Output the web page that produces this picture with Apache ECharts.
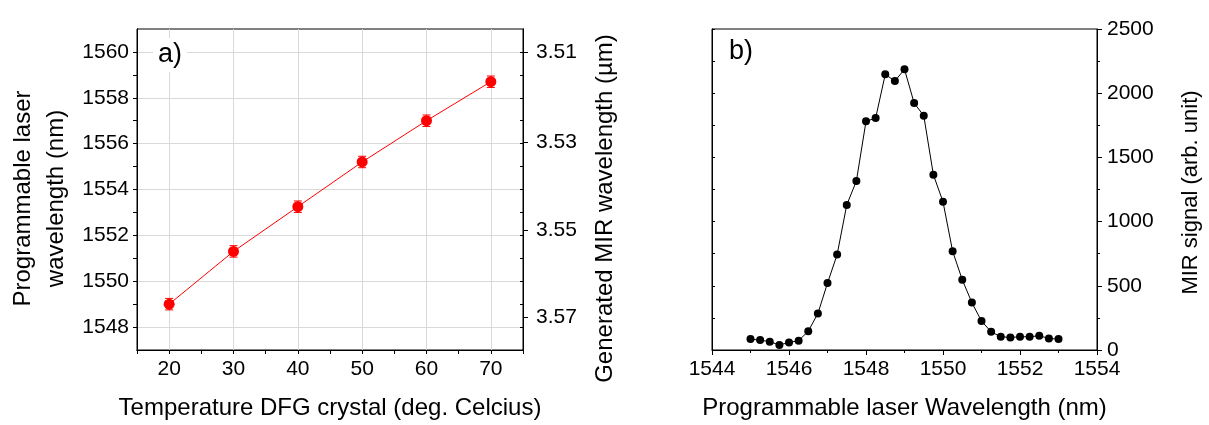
<!DOCTYPE html>
<html><head><meta charset="utf-8">
<script src="https://cdn.jsdelivr.net/npm/echarts@6/dist/echarts.min.js"></script>
<style>html,body{margin:0;padding:0;background:#fff}#c{width:1209px;height:425px}</style>
</head><body><div id="c"></div>
<script>
// ---- Panel a data ----
const tempC = [20, 30, 40, 50, 60, 70];
const laserNm = [1549.0, 1551.3, 1553.25, 1555.2, 1557.0, 1558.7];
const laserErr = [0.25, 0.25, 0.25, 0.25, 0.25, 0.25];
const tempLabels = [20, 30, 40, 50, 60, 70];
const tempTickMarks = [15, 20, 25, 30, 35, 40, 45, 50, 55, 60, 65, 70, 75];
const laserLabels = [1548, 1550, 1552, 1554, 1556, 1558, 1560];
const laserTickMarks = [1548, 1549, 1550, 1551, 1552, 1553, 1554, 1555, 1556, 1557, 1558, 1559, 1560];
const mirLabels = [3.51, 3.53, 3.55, 3.57];
const PUMP_NM = 1080; // pump wavelength linking laser nm to MIR um axis

// ---- Panel b data ----
const scanNm = [1545, 1545.25, 1545.5, 1545.75, 1546, 1546.25, 1546.5, 1546.75, 1547, 1547.25, 1547.5, 1547.75,
  1548, 1548.25, 1548.5, 1548.75, 1549, 1549.25, 1549.5, 1549.75, 1550, 1550.25, 1550.5, 1550.75,
  1551, 1551.25, 1551.5, 1551.75, 1552, 1552.25, 1552.5, 1552.75, 1553];
const mirSignal = [85, 77, 65, 39, 59, 72, 147, 284, 521, 743, 1130, 1316,
  1781, 1806, 2147, 2095, 2186, 1923, 1825, 1365, 1154, 769, 547, 369,
  225, 142, 103, 98, 103, 103, 111, 90, 85];

const nmFromMir = um => 1 / (1 / PUMP_NM - 1 / (um * 1000));
const mirFromNm = nm => 1 / (1 / PUMP_NM - 1 / nm) / 1000;

const FONT = 'Liberation Sans, Arial, sans-serif';
const BLACK = '#000';
const GRIDC = '#d9d9d9';
const axisLineStyle = { show: true, lineStyle: { color: BLACK, width: 1 } };
const labelStyle = { color: BLACK, fontSize: 21, fontFamily: FONT, formatter: v => String(v) };
const nameStyle = { color: BLACK, fontSize: 24, fontFamily: FONT };

const chart = echarts.init(document.getElementById('c'), null, { renderer: 'canvas' });
chart.setOption({
  animation: false,
  backgroundColor: '#fff',
  grid: [
    { left: 137, top: 29, width: 386, height: 322, show: true, borderColor: BLACK, borderWidth: 1, backgroundColor: 'transparent' },
    { left: 712, top: 29, width: 385, height: 322, show: true, borderColor: BLACK, borderWidth: 1, backgroundColor: 'transparent' }
  ],
  xAxis: [
    { // panel a: gridlines + data axis
      gridIndex: 0, type: 'value', position: 'bottom', min: 15, max: 75,
      axisLine: axisLineStyle,
      axisTick: { show: false, customValues: tempLabels },
      axisLabel: { show: false, customValues: tempLabels },
      splitLine: { show: true, lineStyle: { color: GRIDC, width: 1 } }
    },
    { // panel b
      gridIndex: 1, type: 'value', position: 'bottom', min: 1544, max: 1554, interval: 2,
      axisLine: axisLineStyle,
      axisTick: { show: true, length: 5, lineStyle: { color: BLACK } },
      minorTick: { show: true, splitNumber: 2, length: 3, lineStyle: { color: BLACK } },
      axisLabel: Object.assign({}, labelStyle, { margin: 9 }),
      splitLine: { show: false },
      name: 'Programmable laser Wavelength (nm)', nameLocation: 'middle', nameGap: 46,
      nameTextStyle: nameStyle
    },
    { // panel a: ticks + labels overlay
      gridIndex: 0, type: 'value', position: 'bottom', min: 15, max: 75,
      axisLine: axisLineStyle,
      axisTick: { show: true, length: 4, customValues: tempTickMarks, lineStyle: { color: BLACK } },
      axisLabel: Object.assign({}, labelStyle, { customValues: tempLabels, margin: 9 }),
      splitLine: { show: false },
      name: 'Temperature DFG crystal (deg. Celcius)', nameLocation: 'middle', nameGap: 46,
      nameTextStyle: nameStyle
    }
  ],
  yAxis: [
    { // panel a: gridlines + data axis
      gridIndex: 0, type: 'value', position: 'left', min: 1547, max: 1561,
      axisLine: axisLineStyle,
      axisTick: { show: false, customValues: laserLabels },
      axisLabel: { show: false, customValues: laserLabels },
      splitLine: { show: true, lineStyle: { color: GRIDC, width: 1 } }
    },
    { // panel a right: inward nm ticks
      gridIndex: 0, type: 'value', position: 'right', min: 1547, max: 1561,
      axisLine: axisLineStyle,
      axisTick: { show: true, inside: true, length: 3, customValues: laserTickMarks, lineStyle: { color: BLACK } },
      axisLabel: { show: false }, splitLine: { show: false }
    },
    { // panel a right: MIR wavelength labels
      gridIndex: 0, type: 'value', position: 'right', min: 1547, max: 1561,
      axisLine: axisLineStyle,
      axisTick: { show: true, length: 5, customValues: mirLabels.map(nmFromMir), lineStyle: { color: BLACK } },
      axisLabel: Object.assign({}, labelStyle, {
        customValues: mirLabels.map(nmFromMir), margin: 13,
        formatter: v => mirFromNm(v).toFixed(2)
      }),
      splitLine: { show: false },
      name: 'Generated MIR wavelength (\u00b5m)', nameLocation: 'middle', nameGap: 70, nameRotate: 90,
      nameTextStyle: Object.assign({ padding: [0, 38, 0, 0] }, nameStyle)
    },
    { // panel b left
      gridIndex: 1, type: 'value', position: 'left', min: 0, max: 2500, interval: 250,
      axisLine: axisLineStyle,
      axisTick: { show: true, inside: true, length: 3, lineStyle: { color: BLACK } },
      axisLabel: { show: false }, splitLine: { show: false }
    },
    { // panel b right
      gridIndex: 1, type: 'value', position: 'right', min: 0, max: 2500, interval: 500,
      axisLine: axisLineStyle,
      axisTick: { show: true, length: 5, lineStyle: { color: BLACK } },
      minorTick: { show: true, splitNumber: 2, length: 3, lineStyle: { color: BLACK } },
      axisLabel: Object.assign({}, labelStyle, { margin: 10 }),
      splitLine: { show: false },
      name: 'MIR signal (arb. unit)', nameLocation: 'middle', nameGap: 83, nameRotate: 90,
      nameTextStyle: Object.assign({}, nameStyle, { fontSize: 22, padding: [0, 6, 0, 0] })
    },
    { // panel a left: ticks + labels overlay
      gridIndex: 0, type: 'value', position: 'left', min: 1547, max: 1561,
      axisLine: axisLineStyle,
      axisTick: { show: true, length: 4, customValues: laserTickMarks, lineStyle: { color: BLACK } },
      axisLabel: Object.assign({}, labelStyle, { customValues: laserLabels, margin: 8 }),
      splitLine: { show: false },
      name: 'Programmable laser\nwavelength (nm)', nameLocation: 'middle', nameGap: 64, nameRotate: 90,
      nameTextStyle: Object.assign({ lineHeight: 33, padding: [0, 18, 0, 0] }, nameStyle)
    }
  ],
  graphic: [
    { type: 'text', left: 153, top: 38, z: 100,
      style: { text: 'a)', fontSize: 27, fontFamily: FONT, fill: BLACK, backgroundColor: '#fff', padding: [3, 5, 4, 5] } },
    { type: 'text', left: 727, top: 38, z: 100,
      style: { text: 'b)', fontSize: 27, fontFamily: FONT, fill: BLACK, backgroundColor: '#fff', padding: [0, 2, 0, 2] } }
  ],
  series: [
    {
      type: 'line', xAxisIndex: 0, yAxisIndex: 0, z: 4,
      data: tempC.map((t, i) => [t, laserNm[i]]),
      symbol: 'circle', symbolSize: 11, showSymbol: true,
      itemStyle: { color: '#ff0000' }, lineStyle: { color: '#ff0000', width: 1 }
    },
    {
      type: 'custom', xAxisIndex: 0, yAxisIndex: 0, z: 3,
      data: tempC.map((t, i) => [t, laserNm[i], laserErr[i]]),
      renderItem: function (params, api) {
        const x = api.value(0), y = api.value(1), e = api.value(2);
        const hi = api.coord([x, y + e]), lo = api.coord([x, y - e]);
        const w = 4;
        const st = { stroke: '#ff0000', lineWidth: 1 };
        return { type: 'group', children: [
          { type: 'line', shape: { x1: hi[0], y1: hi[1], x2: lo[0], y2: lo[1] }, style: st },
          { type: 'line', shape: { x1: hi[0] - w, y1: hi[1], x2: hi[0] + w, y2: hi[1] }, style: st },
          { type: 'line', shape: { x1: lo[0] - w, y1: lo[1], x2: lo[0] + w, y2: lo[1] }, style: st }
        ] };
      }
    },
    {
      type: 'line', xAxisIndex: 1, yAxisIndex: 4,
      data: scanNm.map((x, i) => [x, mirSignal[i]]),
      symbol: 'circle', symbolSize: 8,
      itemStyle: { color: BLACK }, lineStyle: { color: BLACK, width: 1 }
    }
  ]
});
</script>
</body></html>
